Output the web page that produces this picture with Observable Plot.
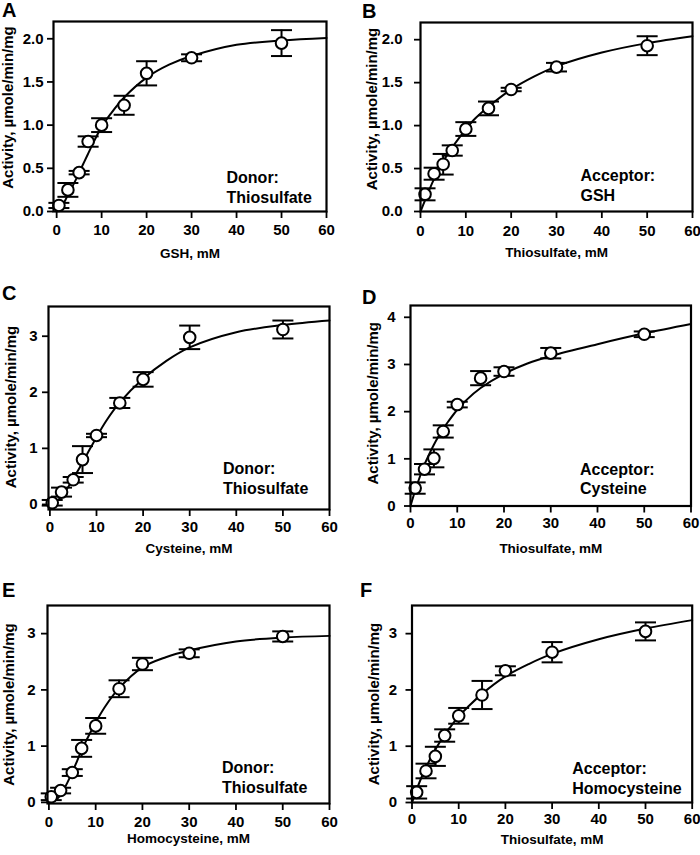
<!DOCTYPE html>
<html><head><meta charset="utf-8">
<script src="https://cdn.jsdelivr.net/npm/d3@7"></script>
<script src="https://cdn.jsdelivr.net/npm/@observablehq/plot@0.6"></script>
<style>
body{margin:0;background:#fff;}
#fig{position:relative;width:700px;height:855px;background:#fff;font-family:"Liberation Sans",Arial,sans-serif;font-weight:bold;color:#000;overflow:hidden;}
.panel{position:absolute;}
.letter{position:absolute;font-size:20px;line-height:20px;font-weight:bold;}
</style></head><body><div id="fig"></div>
<script>
// ---- data ----
const xDonor = [0.5, 2.5, 5, 7, 10, 15, 20, 30, 50];
const xAcceptor = [1, 3, 5, 7, 10, 15, 20, 30, 50];
const fitX = [0, 1, 2, 3, 4, 5, 6, 7, 8, 10, 12, 15, 20, 25, 30, 40, 50, 60];
const xTicks = [0, 10, 20, 30, 40, 50, 60];

const yA = [0.07, 0.25, 0.45, 0.81, 1.00, 1.23, 1.60, 1.78, 1.95];
const eA = [0.03, 0.08, 0.02, 0.06, 0.08, 0.11, 0.14, 0.04, 0.15];
const fitA = [0, 0.05, 0.14, 0.24, 0.34, 0.45, 0.56, 0.67, 0.78, 0.98, 1.13, 1.32, 1.55, 1.70, 1.80, 1.93, 1.98, 2.01];

const yB = [0.20, 0.44, 0.55, 0.71, 0.96, 1.20, 1.42, 1.68, 1.93];
const eB = [0.07, 0.07, 0.12, 0.06, 0.08, 0.08, 0.02, 0.05, 0.11];
const fitB = [0, 0.13, 0.26, 0.38, 0.48, 0.58, 0.67, 0.75, 0.82, 0.96, 1.08, 1.22, 1.42, 1.57, 1.69, 1.85, 1.96, 2.04];

const yC = [0.03, 0.22, 0.44, 0.80, 1.23, 1.81, 2.23, 2.98, 3.12];
const eC = [0.05, 0.08, 0.05, 0.24, 0.03, 0.09, 0.13, 0.21, 0.16];
const fitC = [0, 0.03, 0.10, 0.20, 0.32, 0.46, 0.60, 0.75, 0.90, 1.20, 1.48, 1.82, 2.24, 2.56, 2.80, 3.07, 3.20, 3.28];

const yD = [0.38, 0.78, 1.01, 1.58, 2.15, 2.71, 2.85, 3.24, 3.64];
const eD = [0.12, 0.11, 0.19, 0.13, 0.06, 0.15, 0.09, 0.11, 0.06];
const fitD = [0, 0.33, 0.62, 0.88, 1.10, 1.30, 1.48, 1.64, 1.78, 2.04, 2.25, 2.50, 2.80, 3.02, 3.18, 3.43, 3.66, 3.86];

const yE = [0.10, 0.21, 0.53, 0.96, 1.36, 2.02, 2.46, 2.65, 2.95];
const eE = [0.06, 0.05, 0.06, 0.15, 0.14, 0.15, 0.11, 0.07, 0.09];
const fitE = [0, 0.02, 0.08, 0.20, 0.36, 0.54, 0.73, 0.93, 1.10, 1.42, 1.70, 2.03, 2.40, 2.58, 2.70, 2.86, 2.93, 2.96];

const yF = [0.18, 0.56, 0.82, 1.19, 1.54, 1.91, 2.34, 2.67, 3.04];
const eF = [0.11, 0.13, 0.17, 0.11, 0.14, 0.25, 0.08, 0.18, 0.16];
const fitF = [0, 0.23, 0.44, 0.62, 0.79, 0.94, 1.08, 1.21, 1.32, 1.53, 1.70, 1.93, 2.24, 2.46, 2.64, 2.90, 3.09, 3.24];

const yTicks2 = [0, 0.5, 1, 1.5, 2];
const yTicks3 = [0, 1, 2, 3];
const yTicks4 = [0, 1, 2, 3, 4];
const yTitle = "Activity, \u00b5mole/min/mg";
const letters = ["A", "B", "C", "D", "E", "F"];
const xTitles = ["GSH, mM", "Thiosulfate, mM", "Cysteine, mM", "Thiosulfate, mM", "Homocysteine, mM", "Thiosulfate, mM"];
const legends = ["Donor:\nThiosulfate", "Acceptor:\nGSH", "Donor:\nThiosulfate", "Acceptor:\nCysteine", "Donor:\nThiosulfate", "Acceptor:\nHomocysteine"];

const panels = [
  {x: xDonor, y: yA, e: eA, fit: fitA, ticks: yTicks2, fmt: ".1f"},
  {x: xAcceptor, y: yB, e: eB, fit: fitB, ticks: yTicks2, fmt: ".1f"},
  {x: xDonor, y: yC, e: eC, fit: fitC, ticks: yTicks3, fmt: "d"},
  {x: xAcceptor, y: yD, e: eD, fit: fitD, ticks: yTicks4, fmt: "d"},
  {x: xDonor, y: yE, e: eE, fit: fitE, ticks: yTicks3, fmt: "d"},
  {x: xAcceptor, y: yF, e: eF, fit: fitF, ticks: yTicks3, fmt: "d"}
];

// ---- layout (positions/sizes) ----
const layout = [
  {left: 0, top: 0, w: 350, h: 280, ml: 53, mr: 24, mt: 21, mb: 69, xd: [-0.7, 60], yd: [0, 2.2], xpad: 6, ypad: 4, ylx: -45, yly: -9, xl: 42, lgx: -100, lgy: -9, lx: 2, lb: 17},
  {left: 350, top: 0, w: 350, h: 280, ml: 70, mr: 8, mt: 22, mb: 69, xd: [0, 60], yd: [0, 2.2], xpad: 7, ypad: 12, ylx: -48, yly: -8, xl: 41.5, lgx: -112, lgy: -11, lx: 362, lb: 18},
  {left: 0, top: 280, w: 350, h: 290, ml: 48, mr: 21, mt: 26, mb: 61, xd: [-0.3, 60], yd: [-0.09, 3.53], xpad: 4.5, ypad: 5, ylx: -37, yly: -1, xl: 39, lgx: -106.5, lgy: -16, lx: 2, lb: 300},
  {left: 350, top: 280, w: 350, h: 290, ml: 60, mr: 9.5, mt: 25, mb: 64.5, xd: [0, 60], yd: [0, 4.25], xpad: 4, ypad: 9, ylx: -37.5, yly: -2.5, xl: 42.5, lgx: -111, lgy: -12, lx: 362, lb: 304},
  {left: 0, top: 570, w: 350, h: 285, ml: 47, mr: 21, mt: 35, mb: 52, xd: [-0.3, 60], yd: [-0.02, 3.5], xpad: 5.5, ypad: 6, ylx: -38, yly: 0, xl: 35.5, lgx: -107.5, lgy: -11, lx: 2, lb: 597},
  {left: 350, top: 570, w: 350, h: 285, ml: 61.5, mr: 8.3, mt: 35, mb: 53, xd: [0, 60], yd: [0, 3.5], xpad: 4, ypad: 9, ylx: -38, yly: 0, xl: 37, lgx: -120, lgy: -9, lx: 360, lb: 597}
];

const capSymbol = {
  draw(ctx, size) {
    const r = Math.sqrt(size / Math.PI);
    ctx.moveTo(-r, 0);
    ctx.lineTo(r, 0);
  }
};

const fig = document.getElementById("fig");

panels.forEach((p, i) => {
  const L = layout[i];
  const pts = p.x.map((x, j) => ({x, y: p.y[j], lo: p.y[j] - p.e[j], hi: p.y[j] + p.e[j]}));
  const fit = fitX.map((x, j) => ({x, y: p.fit[j]}));
  const chart = Plot.plot({
    width: L.w, height: L.h,
    marginLeft: L.ml, marginRight: L.mr, marginTop: L.mt, marginBottom: L.mb,
    x: {domain: L.xd},
    y: {domain: L.yd},
    style: {fontFamily: '"Liberation Sans", Arial, sans-serif', fontWeight: "bold", fontSize: "15px", color: "black", background: "transparent", overflow: "visible"},
    marks: [
      Plot.axisX({ticks: xTicks, tickFormat: "d", tickSize: 7, tickPadding: L.xpad, strokeWidth: 1.8, fontSize: 15, label: null}),
      Plot.axisY({ticks: p.ticks, tickFormat: d3.format(p.fmt), tickSize: 6, tickPadding: L.ypad, strokeWidth: 1.8, fontSize: 15, label: null}),
      Plot.line(fit, {x: "x", y: "y", curve: "catmull-rom", stroke: "black", strokeWidth: 2}),
      Plot.ruleX(pts, {x: "x", y1: "lo", y2: "hi", stroke: "black", strokeWidth: 2}),
      Plot.dot(pts, {x: "x", y: "lo", symbol: capSymbol, r: 10.5, stroke: "black", strokeWidth: 2, fill: "none"}),
      Plot.dot(pts, {x: "x", y: "hi", symbol: capSymbol, r: 10.5, stroke: "black", strokeWidth: 2, fill: "none"}),
      Plot.dot(pts, {x: "x", y: "y", r: 5.8, fill: "white", stroke: "black", strokeWidth: 2}),
      Plot.frame({stroke: "black", strokeWidth: 2.2}),
      Plot.text([xTitles[i]], {text: d => d, frameAnchor: "bottom", dy: L.xl, lineAnchor: "middle", fontSize: 13.5}),
      Plot.text([yTitle], {text: d => d, frameAnchor: "left", textAnchor: "middle", rotate: -90, dx: L.ylx, dy: L.yly, lineAnchor: "middle", fontSize: 15}),
      Plot.text([legends[i]], {text: d => d, frameAnchor: "bottom-right", textAnchor: "start", lineAnchor: "bottom", dx: L.lgx, dy: L.lgy, fontSize: 16, lineHeight: 1.19})
    ]
  });
  const div = document.createElement("div");
  div.className = "panel";
  div.style.left = L.left + "px";
  div.style.top = L.top + "px";
  div.appendChild(chart);
  fig.appendChild(div);
});

layout.forEach((L, i) => {
  const lab = document.createElement("div");
  lab.className = "letter";
  lab.textContent = letters[i];
  lab.style.left = L.lx + "px";
  lab.style.top = (L.lb - 17) + "px";
  fig.appendChild(lab);
});
</script>
</body></html>
